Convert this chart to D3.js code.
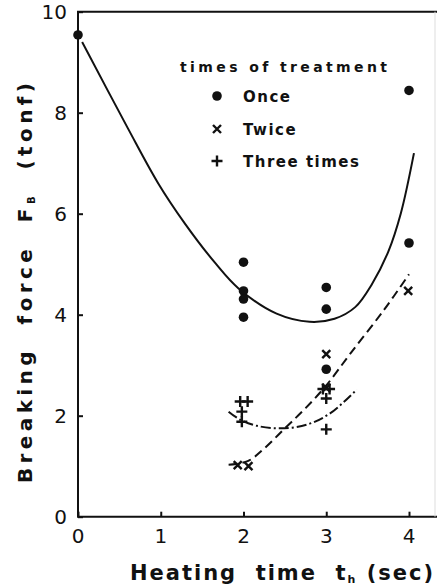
<!DOCTYPE html>
<html>
<head>
<meta charset="utf-8">
<script src="https://cdn.jsdelivr.net/npm/d3@7"></script>
<style>
  body { margin: 0; background: #fff; }
  text { font-family: "DejaVu Sans", sans-serif; font-weight: bold; fill: #111; white-space: pre; }
</style>
</head>
<body>
<svg id="chart"></svg>
<script>
// measured points, per times of treatment
var onceX  = [0, 2, 2, 2, 2, 3, 3, 3, 4, 4];
var onceY  = [9.54, 5.04, 4.47, 4.31, 3.95, 4.54, 4.11, 2.92, 8.44, 5.42];
var twiceX = [1.93, 2.06, 3.0, 3.0, 3.99];
var twiceY = [1.02, 1.0, 3.22, 2.55, 4.47];
var threeX = [1.96, 2.05, 1.98, 1.98, 2.96, 3.04, 3.0, 3.0];
var threeY = [2.28, 2.28, 2.08, 1.88, 2.53, 2.53, 2.34, 1.73];

// fitted curves
var onceCurveX  = [0.05, 0.6, 0.97, 1.29, 1.66, 1.94, 2.4, 2.8, 3.1, 3.35, 3.55, 3.75, 3.9, 4.06];
var onceCurveY  = [9.4, 7.7, 6.6, 5.81, 5.02, 4.52, 4.02, 3.86, 3.92, 4.15, 4.6, 5.25, 6.0, 7.2];
var twiceCurveX = [1.82, 2.05, 2.25, 2.5, 2.75, 3.0, 3.3, 3.7, 4.0];
var twiceCurveY = [1.03, 1.1, 1.35, 1.75, 2.15, 2.6, 3.25, 4.1, 4.8];
var threeCurveX = [1.82, 1.96, 2.16, 2.44, 2.76, 3.05, 3.37];
var threeCurveY = [2.08, 1.92, 1.8, 1.75, 1.82, 2.05, 2.52];

var xTicks = [0, 1, 2, 3, 4];
var yTicks = [0, 2, 4, 6, 8, 10];
var legendLabels = ["Once", "Twice", "Three times"];

var W = 437, H = 586;
var svg = d3.select("#chart").attr("width", W).attr("height", H);

var x = d3.scaleLinear().domain([0, 4]).range([78, 409]);
var y = d3.scaleLinear().domain([0, 10]).range([516.7, 11.7]);

function zip(a, b) { return a.map(function (v, i) { return [v, b[i]]; }); }

// frame
svg.append("path")
    .attr("d", "M" + (W) + "," + y(10) + "H" + x(0) + "V" + y(0) + "H" + W)
    .attr("fill", "none").attr("stroke", "#111").attr("stroke-width", 2);
svg.append("line")
    .attr("x1", 435).attr("x2", 435).attr("y1", y(10)).attr("y2", y(0))
    .attr("stroke", "#ddd").attr("stroke-width", 1);

// axes with inward ticks
var gX = svg.append("g").attr("transform", "translate(0," + y(0) + ")")
    .call(d3.axisTop(x).tickValues(xTicks).tickSize(5).tickFormat(""));
var gY = svg.append("g").attr("transform", "translate(" + x(0) + ",0)")
    .call(d3.axisRight(y).tickValues(yTicks).tickSize(5).tickFormat(""));
svg.selectAll(".domain").remove();
svg.selectAll(".tick line").attr("stroke", "#111").attr("stroke-width", 2);

svg.selectAll(".xlab").data(xTicks).enter().append("text")
    .attr("x", function (d) { return x(d); })
    .attr("y", 543)
    .attr("text-anchor", "middle")
    .style("font-size", "20px").style("font-weight", "normal")
    .text(function (d) { return d; });
svg.selectAll(".ylab").data(yTicks).enter().append("text")
    .attr("x", 67)
    .attr("y", function (d) { return y(d) + 7.5; })
    .attr("text-anchor", "end")
    .style("font-size", "20px").style("font-weight", "normal")
    .text(function (d) { return d; });

// axis titles
var xt = svg.append("text").attr("x", 130).attr("y", 580)
    .attr("textLength", 303).attr("lengthAdjust", "spacing")
    .style("font-size", "21px");
xt.append("tspan").text("Heating  time  t");
xt.append("tspan").attr("dy", 3).style("font-size", "11px").text("h");
xt.append("tspan").attr("dy", -3).text(" (sec)");

var yt = svg.append("text")
    .attr("transform", "translate(32,483) rotate(-90)")
    .attr("textLength", 400).attr("lengthAdjust", "spacing")
    .style("font-size", "20px");
yt.append("tspan").text("Breaking  force  F");
yt.append("tspan").attr("dy", 3).style("font-size", "10px").text("B");
yt.append("tspan").attr("dy", -3).text("  (tonf)");

// curves
var line = d3.line()
    .x(function (d) { return x(d[0]); })
    .y(function (d) { return y(d[1]); })
    .curve(d3.curveCatmullRom);

svg.append("path").attr("d", line(zip(onceCurveX, onceCurveY)))
    .attr("fill", "none").attr("stroke", "#111").attr("stroke-width", 2);
svg.append("path").attr("d", line(zip(twiceCurveX, twiceCurveY)))
    .attr("fill", "none").attr("stroke", "#111").attr("stroke-width", 2)
    .attr("stroke-dasharray", "9,5");
svg.append("path").attr("d", line(zip(threeCurveX, threeCurveY)))
    .attr("fill", "none").attr("stroke", "#111").attr("stroke-width", 2)
    .attr("stroke-dasharray", "10,3,2,3");

// markers
function dot(g, cx, cy) {
    g.append("circle").attr("cx", cx).attr("cy", cy).attr("r", 4.8).attr("fill", "#111");
}
function cross(g, cx, cy) {
    var s = 4;
    g.append("path")
        .attr("d", "M" + (cx - s) + "," + (cy - s) + "L" + (cx + s) + "," + (cy + s) +
                   "M" + (cx - s) + "," + (cy + s) + "L" + (cx + s) + "," + (cy - s))
        .attr("stroke", "#111").attr("stroke-width", 2.4);
}
function plus(g, cx, cy) {
    var s = 5.5;
    g.append("path")
        .attr("d", "M" + (cx - s) + "," + cy + "H" + (cx + s) + "M" + cx + "," + (cy - s) + "V" + (cy + s))
        .attr("stroke", "#111").attr("stroke-width", 2.4);
}

var marks = svg.append("g");
onceX.forEach(function (v, i) { dot(marks, x(v), y(onceY[i])); });
twiceX.forEach(function (v, i) { cross(marks, x(v), y(twiceY[i])); });
threeX.forEach(function (v, i) { plus(marks, x(v), y(threeY[i])); });

// legend
var leg = svg.append("g");
leg.append("text").attr("x", 180).attr("y", 72)
    .attr("textLength", 207).attr("lengthAdjust", "spacing")
    .style("font-size", "14px").text("times of treatment");
var legY = [96, 129, 161];
var legFn = [dot, cross, plus];
legendLabels.forEach(function (lab, i) {
    legFn[i](leg, 217, legY[i]);
    leg.append("text").attr("x", 243).attr("y", legY[i] + 6)
        .style("font-size", "15px").style("letter-spacing", "1.5px")
        .text(lab);
});
</script>
</body>
</html>
